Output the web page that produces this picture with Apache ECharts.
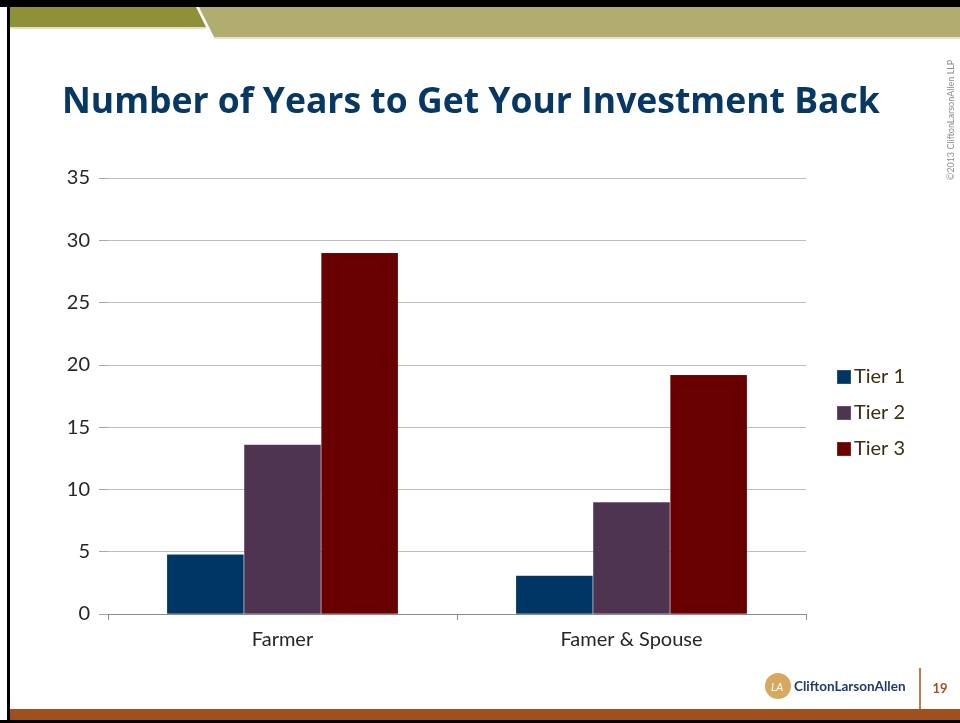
<!DOCTYPE html>
<html>
<head>
<meta charset="utf-8">
<script src="https://cdn.jsdelivr.net/npm/echarts@6/dist/echarts.min.js"></script>
<style>
html,body{margin:0;padding:0;background:#fff;}
#chart{width:960px;height:723px;}
</style>
</head>
<body>
<div id="chart"></div>
<script>
const categories = ['Farmer', 'Famer & Spouse'];
const seriesNames = ['Tier 1', 'Tier 2', 'Tier 3'];
const tier1 = [4.8, 3.1];
const tier2 = [13.6, 9.0];
const tier3 = [29.0, 19.2];
const yTicks = [0, 5, 10, 15, 20, 25, 30, 35];
const colors = ['#003663', '#4F3451', '#680000'];

const chart = echarts.init(document.getElementById('chart'), null, {renderer: 'canvas'});
const FONT = 'Lato, "Liberation Sans", sans-serif';
const TFONT = '"Open Sans", "Noto Sans", sans-serif';
const values = [tier1, tier2, tier3];

chart.setOption({
  animation: false,
  backgroundColor: '#ffffff',
  title: {
    text: 'Number of Years to Get Your Investment Back',
    left: 57, top: 80,
    textStyle: {fontFamily: TFONT, fontWeight: 'bold', fontSize: 35.5, color: '#073763'}
  },
  legend: {
    orient: 'vertical',
    left: 831, top: 362,
    itemWidth: 14, itemHeight: 14, itemGap: 16,
    icon: 'rect',
    data: seriesNames,
    textStyle: {fontFamily: FONT, fontSize: 20, color: '#3a2e12', padding: [0,0,0,-2]}
  },
  grid: {left: 108, right: 154, top: 178, bottom: 109, containLabel: false},
  xAxis: {
    type: 'category',
    data: categories,
    axisLine: {lineStyle: {color: '#8a8a8a', width: 1}},
    axisTick: {show: true, length: 6, lineStyle: {color: '#8a8a8a'}},
    axisLabel: {fontFamily: FONT, fontSize: 20, color: '#262626', margin: 16}
  },
  yAxis: {
    type: 'value',
    min: yTicks[0], max: yTicks[yTicks.length - 1], interval: 5,
    axisLine: {show: false},
    axisTick: {show: true, length: 9, lineStyle: {color: '#a6a6a6'}},
    splitLine: {lineStyle: {color: '#bdbdbd', width: 1}},
    axisLabel: {fontFamily: FONT, fontSize: 20, color: '#262626', margin: 18}
  },
  series: seriesNames.map((n, i) => ({
    name: n,
    type: 'bar',
    data: values[i],
    barGap: '0%',
    barCategoryGap: '33.7%',
    itemStyle: {color: colors[i], borderColor: 'rgba(255,255,255,0.15)', borderWidth: 0.5}
  })),
  graphic: [
    {type: 'rect', shape: {x: 0, y: 0, width: 960, height: 7}, style: {fill: '#000'}},
    {type: 'rect', shape: {x: 7, y: 0, width: 3, height: 723}, style: {fill: '#000'}},
    {type: 'polygon', shape: {points: [[10,7],[196,7],[206,27],[10,27]]}, style: {fill: '#8E9137'}},
    {type: 'rect', shape: {x: 10, y: 27, width: 196, height: 2}, style: {fill: '#E4E2C4'}},
    {type: 'polygon', shape: {points: [[199,7],[960,7],[960,37],[214,37]]}, style: {fill: '#B1AD6F'}},
    {type: 'rect', shape: {x: 214, y: 37, width: 746, height: 2}, style: {fill: '#E6E4CC'}},
    {type: 'rect', shape: {x: 10, y: 709, width: 950, height: 11}, style: {fill: '#A0501F'}},
    {type: 'rect', shape: {x: 0, y: 720, width: 960, height: 3}, style: {fill: '#000'}},
    {type: 'line', shape: {x1: 920, y1: 668, x2: 920, y2: 709}, style: {stroke: '#A0501F', lineWidth: 1.5}},
    {type: 'text', x: 940, y: 689, style: {text: '19', fill: '#A0501F', font: 'bold 13px ' + FONT, textAlign: 'center', textVerticalAlign: 'middle'}},
    {type: 'circle', shape: {cx: 778, cy: 686, r: 13}, style: {fill: '#D9A860'}},
    {type: 'text', x: 777, y: 687, style: {text: 'LA', fill: '#ffffff', font: 'italic 11px ' + FONT, textAlign: 'center', textVerticalAlign: 'middle'}},
    {type: 'text', x: 794, y: 687, style: {text: 'CliftonLarsonAllen', fill: '#1F3A6E', font: 'bold 13.5px ' + FONT, textAlign: 'left', textVerticalAlign: 'middle'}},
    {type: 'text', x: 951, y: 120, rotation: Math.PI / 2, style: {text: '©2013 CliftonLarsonAllen LLP', fill: '#8c8c8c', font: '9px ' + FONT, textAlign: 'center', textVerticalAlign: 'middle'}}
  ]
});
</script>
</body>
</html>
